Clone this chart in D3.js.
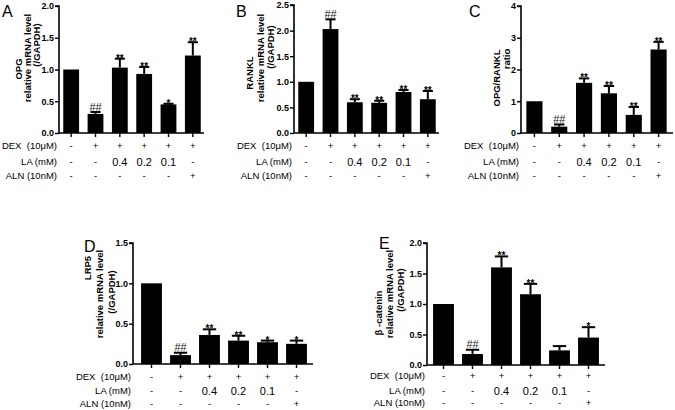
<!DOCTYPE html>
<html><head><meta charset="utf-8">
<script src="https://cdn.jsdelivr.net/npm/d3@7"></script>
<style>
body{margin:0;background:#fff;}
svg{display:block;}
text{font-family:"Liberation Sans",Arial,sans-serif;}
.rowlab{font-family:"Liberation Sans Narrow","Liberation Sans",Arial,sans-serif;font-size:9.5px;white-space:pre;}
</style></head>
<body>
<svg id="c" width="675" height="410"></svg>
<script>
// ---- data ----
const conditions = ["Control","DEX","DEX+LA0.4","DEX+LA0.2","DEX+LA0.1","DEX+ALN"];
const rowLabels = ["DEX  (10μM)","LA (mM)","ALN (10nM)"];
const dexRow = ["-","+","+","+","+","+"];
const laRow  = ["-","-","0.4","0.2","0.1","-"];
const alnRow = ["-","-","-","-","-","+"];

const opgMean = [1.00,0.30,1.03,0.93,0.45,1.22];
const opgErr  = [0,0.03,0.14,0.11,0.01,0.21];
const opgSig  = ["","##","**","**","*","**"];

const ranklMean = [1.00,2.03,0.60,0.59,0.80,0.66];
const ranklErr  = [0,0.19,0.06,0.04,0.04,0.16];
const ranklSig  = ["","##","**","**","**","**"];

const ratioMean = [1.00,0.20,1.58,1.25,0.57,2.63];
const ratioErr  = [0,0.07,0.14,0.23,0.25,0.24];
const ratioSig  = ["","##","**","**","**","**"];

const lrp5Mean = [1.00,0.11,0.36,0.29,0.27,0.25];
const lrp5Err  = [0,0.03,0.07,0.06,0.02,0.04];
const lrp5Sig  = ["","##","**","**","*","*"];

const bcatMean = [1.00,0.18,1.60,1.16,0.24,0.45];
const bcatErr  = [0,0.07,0.18,0.17,0.07,0.17];
const bcatSig  = ["","##","**","**","","*"];

const ticksA = [0,0.5,1.0,1.5,2.0];
const ticksB = [0,0.5,1.0,1.5,2.0,2.5];
const ticksC = [0,1,2,3,4];
const ticksD = [0,0.5,1.0,1.5];
const ticksE = [0,0.5,1.0,1.5,2.0];

// ---- layout ----
const panels = [
 {letter:"A", lx:2, ly:17, mean:opgMean, err:opgErr, sig:opgSig, ticks:ticksA, fmt:".1f",
  ax:59, axEnd:204, band:[59,205], pad:0.35, yTop:6, yBot:133,
  title:[{t:"OPG",x:19,y:69},{t:"relative mRNA level",x:28,y:58},{t:"(/GAPDH)",x:37,y:45}],
  rows:[146,162,176]},
 {letter:"B", lx:236, ly:17, mean:ranklMean, err:ranklErr, sig:ranklSig, ticks:ticksB, fmt:".1f",
  ax:294, axEnd:439, band:[294,440], pad:0.35, yTop:5, yBot:133,
  title:[{t:"RANKL",x:250,y:73},{t:"relative mRNA level",x:261,y:58},{t:"(/GAPDH)",x:271,y:47}],
  rows:[146,162,176]},
 {letter:"C", lx:469, ly:17, mean:ratioMean, err:ratioErr, sig:ratioSig, ticks:ticksC, fmt:"d",
  ax:521, axEnd:673, band:[522,671], pad:0.35, yTop:6, yBot:133,
  title:[{t:"OPG/RANKL",x:497,y:78},{t:"ratio",x:507,y:59}],
  rows:[146,162,176]},
 {letter:"D", lx:84, ly:252, mean:lrp5Mean, err:lrp5Err, sig:lrp5Sig, ticks:ticksD, fmt:".1f",
  ax:133, axEnd:313, band:[137,311], pad:0.28, yTop:243, yBot:364,
  title:[{t:"LRP5",x:88,y:268},{t:"relative mRNA level",x:100,y:294},{t:"(/GAPDH)",x:112,y:292}],
  rows:[377,391,404]},
 {letter:"E", lx:379, ly:249, mean:bcatMean, err:bcatErr, sig:bcatSig, ticks:ticksE, fmt:".1f",
  ax:427, axEnd:605, band:[429,603], pad:0.28, yTop:243, yBot:365,
  title:[{t:"β -catenin",x:379,y:313},{t:"relative mRNA level",x:390,y:294},{t:"(/GAPDH)",x:401,y:290}],
  rows:[376,391,403]}
];

const svg = d3.select("#c");
svg.append("rect").attr("width",675).attr("height",410).attr("fill","#fff");

panels.forEach(p=>{
  const g = svg.append("g");
  const x = d3.scaleBand().domain(conditions).range(p.band).paddingInner(p.pad).paddingOuter(p.pad/2);
  const y = d3.scaleLinear().domain([0,p.ticks[p.ticks.length-1]]).range([p.yBot,p.yTop]);
  const bw = x.bandwidth();

  g.append("text").attr("x",p.lx).attr("y",p.ly).attr("font-size",16).text(p.letter);

  g.selectAll(".bar").data(conditions).join("rect")
    .attr("x",d=>x(d)).attr("width",bw)
    .attr("y",(d,i)=>y(p.mean[i])).attr("height",(d,i)=>p.yBot-y(p.mean[i]))
    .attr("fill","#000");
  conditions.forEach((d,i)=>{
    if(!p.err[i]) return;
    const cx = x(d)+bw/2, top = y(p.mean[i]+p.err[i]);
    g.append("line").attr("x1",cx).attr("x2",cx).attr("y1",y(p.mean[i])).attr("y2",top)
      .attr("stroke","#000").attr("stroke-width",2);
    g.append("line").attr("x1",cx-bw*0.32).attr("x2",cx+bw*0.32).attr("y1",top).attr("y2",top)
      .attr("stroke","#000").attr("stroke-width",2);
  });
  conditions.forEach((d,i)=>{
    const s = p.sig[i]; if(!s) return;
    const cx = x(d)+bw/2, top = y(p.mean[i]+p.err[i]);
    if(s[0]==="#"){
      g.append("text").attr("x",cx).attr("y",top-1.5).attr("text-anchor","middle")
        .attr("font-size",11).attr("fill","#222").text(s);
    } else {
      g.append("text").attr("x",cx).attr("y",top+3).attr("text-anchor","middle")
        .attr("font-size",10).attr("font-weight","bold").attr("fill","#000").text(s);
    }
  });

  const yAxis = d3.axisLeft(y).tickValues(p.ticks).tickFormat(d3.format(p.fmt)).tickSize(4).tickPadding(1);
  const ya = g.append("g").attr("transform",`translate(${p.ax},0)`).call(yAxis);
  ya.select(".domain").attr("stroke-width",1.6).attr("d",`M-4,${p.yTop}H0V${p.yBot}`);
  ya.selectAll(".tick line").attr("stroke-width",1.4);
  ya.selectAll("text").attr("font-size",9).attr("font-weight","bold")
    .attr("font-family","'Liberation Sans',Arial,sans-serif").attr("fill","#000");

  g.append("line").attr("x1",p.ax).attr("x2",p.axEnd).attr("y1",p.yBot).attr("y2",p.yBot)
    .attr("stroke","#000").attr("stroke-width",1.6);
  conditions.forEach(d=>{
    const cx = x(d)+bw/2;
    g.append("line").attr("x1",cx).attr("x2",cx).attr("y1",p.yBot).attr("y2",p.yBot+4)
      .attr("stroke","#000").attr("stroke-width",1.4);
  });

  p.title.forEach(t=>{
    g.append("text").attr("transform",`translate(${t.x+3.3},${t.y}) rotate(-90)`)
      .attr("text-anchor","middle").attr("font-size",9.5).attr("font-weight","bold").text(t.t);
  });

  const rowsData = [dexRow,laRow,alnRow];
  rowsData.forEach((row,ri)=>{
    const yy = p.rows[ri];
    g.append("text").attr("class","rowlab").attr("x",p.ax-2).attr("y",yy+3.3)
      .attr("text-anchor","end").text(rowLabels[ri]);
    row.forEach((v,ci)=>{
      const cx = x(conditions[ci])+bw/2;
      const isNum = /\d/.test(v);
      g.append("text").attr("x",cx).attr("y",yy+(isNum?4:3.3)).attr("text-anchor","middle")
        .attr("font-size",isNum?11:9.5).text(v);
    });
  });
});
</script>
</body></html>
